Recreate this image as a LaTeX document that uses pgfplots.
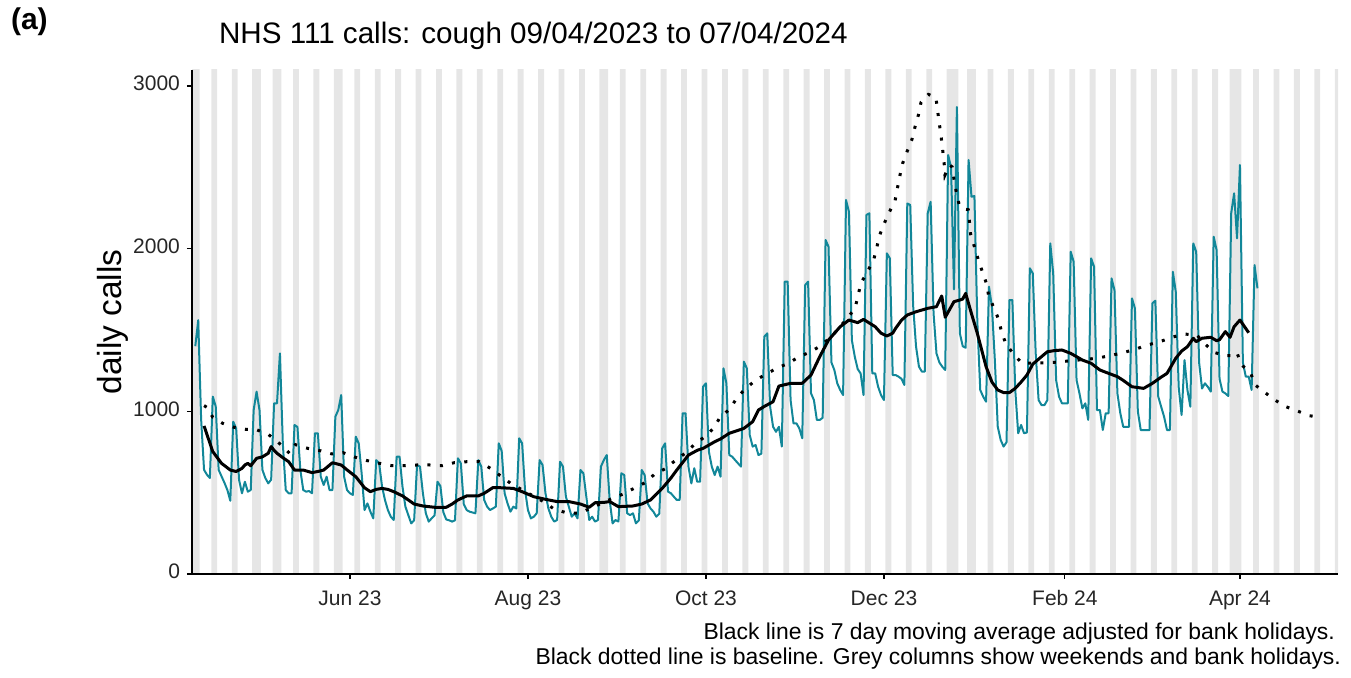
\documentclass[border=0pt]{standalone}
\usepackage{fontspec}
\setmainfont{Liberation Sans}
\usepackage{pgfplots}
\usepackage{pgfplotstable}
\pgfplotsset{compat=1.18}
\definecolor{callteal}{RGB}{18,135,153}
\definecolor{wkgrey}{RGB}{230,230,230}

% day 0 = 09/04/2023
\pgfplotstableread{
d v
0 1400
1 1560
2 950
3 640
4 610
5 590
6 1090
7 1030
8 640
9 600
10 560
11 516
12 450
13 936
14 895
15 578
16 496
17 567
18 506
19 516
20 1008
21 1121
22 1008
23 640
24 590
25 557
26 580
27 1049
28 1049
29 1356
30 800
31 516
32 496
33 496
34 916
35 904
36 639
37 516
38 506
39 510
40 496
41 865
42 865
43 598
44 547
45 598
46 516
47 516
48 967
49 1008
50 1100
51 598
52 516
53 496
54 486
55 844
56 803
57 619
58 393
59 434
60 383
61 342
62 700
63 680
64 537
65 455
66 393
67 352
68 332
69 721
70 721
71 537
72 414
73 362
74 311
75 330
76 670
77 660
78 496
79 373
80 322
81 342
82 360
83 567
84 540
85 380
86 335
87 330
88 322
89 330
90 711
91 680
92 430
93 393
94 383
95 378
96 373
97 700
98 660
99 455
100 414
101 393
102 403
103 414
104 803
105 756
106 496
107 434
108 383
109 414
110 403
111 834
112 803
113 516
114 393
115 342
116 352
117 373
118 700
119 670
120 496
121 403
122 352
123 322
124 332
125 690
126 660
127 475
128 414
129 352
130 373
131 342
132 639
133 619
134 475
135 332
136 352
137 322
138 332
139 660
140 700
141 731
142 455
143 311
144 332
145 322
146 619
147 608
148 373
149 362
150 373
151 311
152 330
153 639
154 608
155 434
156 403
157 383
158 352
159 370
160 772
161 803
162 506
163 496
164 475
165 455
166 455
167 988
168 988
169 660
170 557
171 650
172 567
173 567
174 1151
175 1172
176 752
177 660
178 608
179 660
180 598
181 1264
182 1172
183 731
184 721
185 700
186 680
187 660
188 1305
189 1264
190 854
191 783
192 793
193 731
194 740
195 1459
196 1479
197 1028
198 905
199 874
200 905
201 783
202 1797
203 1797
204 1069
205 926
206 926
207 895
208 834
209 1776
210 1797
211 1111
212 1069
213 947
214 947
215 960
216 2053
217 2012
218 1300
219 1254
220 1172
221 1131
222 1100
223 2299
224 2227
225 1438
226 1336
227 1260
228 1233
229 1100
230 2207
231 2217
232 1233
233 1233
234 1151
235 1100
236 1069
237 1971
238 1941
239 1223
240 1223
241 1213
242 1200
243 1162
244 2278
245 2268
246 1650
247 1397
248 1274
249 1244
250 1244
251 2217
252 2288
253 1602
254 1356
255 1300
256 1274
257 1254
258 2575
259 2500
260 1750
261 2870
262 1480
263 1400
264 1390
265 2545
266 2319
267 2323
268 1550
269 1131
270 1090
271 1059
272 1766
273 1643
274 1315
275 905
276 824
277 783
278 810
279 1684
280 1684
281 1131
282 865
283 916
284 865
285 870
286 1879
287 1848
288 1356
289 1069
290 1038
291 1038
292 1069
293 2032
294 1848
295 1192
296 1090
297 1049
298 1049
299 1049
300 1981
301 1920
302 1192
303 1110
304 1018
305 1049
306 947
307 1940
308 1889
309 1008
310 1008
311 885
312 988
313 988
314 1817
315 1745
316 1110
317 988
318 905
319 905
320 905
321 1694
322 1633
323 1000
324 885
325 885
326 885
327 885
328 1664
329 1680
330 1090
331 1028
332 967
333 885
334 885
335 1858
336 1735
337 1150
338 977
339 1315
340 1131
341 1028
342 2032
343 1981
344 1300
345 1140
346 1172
347 1150
348 1121
349 2073
350 1991
351 1200
352 1121
353 1110
354 1094
355 2217
356 2340
357 2063
358 2514
359 1300
360 1213
361 1213
362 1131
363 1899
364 1756
}\daily

\begin{document}
\begin{tikzpicture}
\path[use as bounding box] (0pt,0pt) rectangle (675.5pt,339pt);
\begin{axis}[
  at={(96pt,52pt)}, anchor=south west,
  width=573pt, height=252pt, scale only axis,
  xmin=-1.13, xmax=391.6, ymin=0, ymax=3098,
  axis lines*=left,
  axis line style={line width=1pt, black},
  axis on top,
  tick align=outside,
  major tick length=2.5pt,
  tick style={black, line width=0.6pt},
  xtick={53,114,175,236,298,358},
  xticklabels={Jun 23,Aug 23,Oct 23,Dec 23,Feb 24,Apr 24},
  ytick={0,1000,2000,3000},
  yticklabels={0,1000,2000,3000},
  scaled ticks=false,
  typeset ticklabels with strut,
  ticklabel style={font=\fontsize{10.5}{12}\selectfont, text=black!85},
  xticklabel style={yshift=-1.5pt},
  /pgf/number format/assume math mode=true,
]
% weekends and bank holidays
\addplot[ybar, bar width=1, fill=wkgrey, draw=none] coordinates {
(-1,3200)(0,3200)(1,3200)(6,3200)(7,3200)(13,3200)(14,3200)(20,3200)(21,3200)(22,3200)
(27,3200)(28,3200)(29,3200)(34,3200)(35,3200)(41,3200)(42,3200)(48,3200)(49,3200)(50,3200)
(55,3200)(56,3200)(62,3200)(63,3200)(69,3200)(70,3200)(76,3200)(77,3200)(83,3200)(84,3200)
(90,3200)(91,3200)(97,3200)(98,3200)(104,3200)(105,3200)(111,3200)(112,3200)(118,3200)(119,3200)
(125,3200)(126,3200)(132,3200)(133,3200)(139,3200)(140,3200)(141,3200)(146,3200)(147,3200)
(153,3200)(154,3200)(160,3200)(161,3200)(167,3200)(168,3200)(174,3200)(175,3200)(181,3200)(182,3200)
(188,3200)(189,3200)(195,3200)(196,3200)(202,3200)(203,3200)(209,3200)(210,3200)(216,3200)(217,3200)
(223,3200)(224,3200)(230,3200)(231,3200)(237,3200)(238,3200)(244,3200)(245,3200)(251,3200)(252,3200)
(258,3200)(259,3200)(260,3200)(261,3200)(265,3200)(266,3200)(267,3200)(272,3200)(273,3200)
(279,3200)(280,3200)(286,3200)(287,3200)(293,3200)(294,3200)(300,3200)(301,3200)(307,3200)(308,3200)
(314,3200)(315,3200)(321,3200)(322,3200)(328,3200)(329,3200)(335,3200)(336,3200)(342,3200)(343,3200)
(349,3200)(350,3200)(355,3200)(356,3200)(357,3200)(358,3200)(363,3200)(364,3200)(370,3200)(371,3200)
(377,3200)(378,3200)(384,3200)(385,3200)(391,3200)(392,3200)
};
% daily calls
\addplot[callteal, line width=1pt, line join=round] table[x=d, y=v] {\daily};
% baseline
\addplot[black, line width=1.5pt, dash pattern=on 1.5pt off 4.7pt] coordinates {
(3,1035)(4,1024)(6,963)(9.4,926)(13.2,902)(17.3,889)(20.7,889)(25.1,857)(29,800)(32.3,742)
(34.3,795)(38.6,772)(43,757)(46.8,738)(50.6,746)(54.6,719)(58.6,698)(62.6,682)(67.2,666)
(71.5,666)(75.9,670)(80.3,670)(84.7,666)(88.7,684)(92.9,690)(97.3,690)(101.2,649)(104.7,602)
(108.1,557)(113.7,500)(119.3,445)(122.9,400)(127,377)(131.3,373)(135.5,404)(139.2,435)
(143,465)(146.7,492)(150.3,526)(154.1,561)(157.5,615)(161.3,649)(164.6,700)(168.2,746)
(171.2,799)(174.7,844)(177.8,899)(179.8,963)(183.2,1014)(185.5,1080)(188.4,1137)(191.8,1188)
(195.6,1229)(199.2,1264)(203.2,1295)(207,1336)(210.9,1366)(214.7,1407)(219,1480)(223.4,1571)
(226.1,1633)(228.1,1787)(230.3,1858)(232.4,1926)(233.5,2002)(234.4,2077)(236,2151)(237.8,2223)
(239.8,2294)(240.6,2370)(241.5,2452)(242.4,2524)(244,2600)(245.6,2672)(246.6,2745)(247.8,2821)
(248.7,2899)(251.2,2948)(253.8,2930)(254.4,2846)(255,2766)(255.6,2688)(256.1,2610)(256.6,2534)
(256.9,2452)(258.4,2514)(259.4,2502)(260,2426)(260.8,2347)(261.8,2268)(263.4,2244)(264.9,2239)
(265.3,2165)(265.7,2088)(267,2012)(268.3,1934)(269.7,1860)(271.1,1787)(271.9,1709)(273.7,1635)
(275.3,1565)(276.3,1488)(277.8,1414)(280.4,1352)(283.3,1295)(288,1297)(292,1299)(296.3,1303)
(300.7,1313)(304.9,1318)(309.5,1328)(313.7,1343)(317.9,1360)(322.1,1381)(326.2,1407)(330.6,1428)
(334.7,1455)(338.8,1475)(343.2,1469)(346,1414)(349.2,1362)(352.9,1342)(355.2,1342)(356.9,1362)
(358.6,1285)(361.7,1233)(363.2,1162)(366.6,1115)(370,1069)(373.8,1028)(377.7,1002)(381.8,973)
(386,961)
};
% 7 day moving average
\addplot[black, line width=1.5pt, line join=round] coordinates {
(3,910)(6,752)(9,680)(12,639)(14,630)(16,649)(17,670)(18,680)(19,665)(21,711)(23,720)(25,742)
(26,783)(27,760)(28,742)(30,715)(32,690)(34,639)(37,639)(40,623)(42,630)(44,639)(47,684)(50,670)
(52,640)(55,598)(58,530)(60,506)(62,520)(64,526)(66,520)(68,506)(71,480)(73,455)(75,430)(78,418)
(82,410)(86,410)(88,430)(90,455)(93,480)(97,480)(99,496)(102,531)(105,530)(109,526)(112,506)
(116,475)(120,459)(124,445)(128,445)(132,430)(135,410)(137,438)(140,440)(142,445)(145,414)
(150,418)(153,430)(156,455)(158,490)(160,526)(163,590)(165,639)(169,731)(172,760)(174,772)
(178,813)(180,830)(183,865)(188,895)(191,936)(193,1008)(195,1030)(198,1059)(200,1155)(204,1172)
(208,1172)(211,1223)(214,1336)(217,1438)(221,1520)(224,1561)(227,1545)(229,1565)(233,1520)
(235,1480)(237,1463)(239,1480)(240,1510)(242,1560)(244,1592)(247,1612)(251,1633)(254,1643)
(255.8,1709)(257,1578)(258,1610)(260,1674)(262,1684)(263,1690)(264,1725)(266,1600)(268,1479)
(271,1274)(273,1180)(275,1131)(277,1115)(279,1115)(281,1141)(283,1180)(285,1223)(287,1290)
(290,1336)(292,1366)(294,1372)(297,1377)(300,1356)(302,1336)(304,1315)(307,1295)(310,1254)
(312,1240)(316,1213)(318,1190)(321,1151)(325,1141)(328,1172)(331,1210)(333,1233)(336,1326)
(338,1370)(340,1397)(342,1449)(343,1428)(345,1449)(348,1455)(350,1434)(351,1440)(353,1490)
(354.6,1455)(356,1520)(358,1561)(361,1483)
};
\end{axis}
\node[anchor=base west, font=\bfseries\fontsize{15}{18}\selectfont] at (2pt,324pt) {(a)};
\node[anchor=base west, font=\fontsize{14.8}{18}\selectfont] at (106pt,317pt) {NHS 111 calls: cough 09/04/2023 to 07/04/2024};
\node[rotate=90, font=\fontsize{16.7}{20}\selectfont] at (56.5pt,178pt) {daily calls};
\node[anchor=base east, font=\fontsize{11.45}{14}\selectfont] at (671pt,19pt) {Black line is 7 day moving average adjusted for bank holidays.};
\node[anchor=base east, font=\fontsize{11.45}{14}\selectfont] at (674pt,6.5pt) {Black dotted line is baseline. Grey columns show weekends and bank holidays.};
\end{tikzpicture}
\end{document}
